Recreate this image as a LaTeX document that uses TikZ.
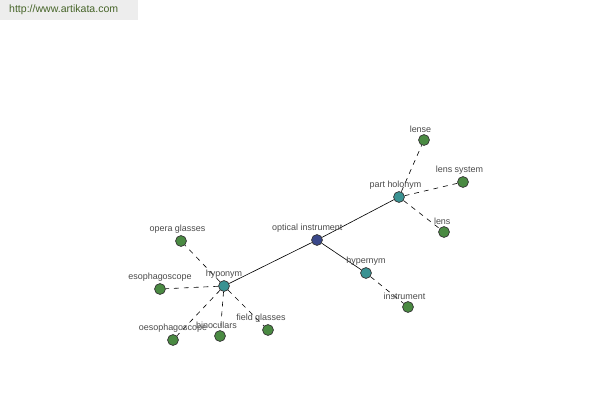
\documentclass[tikz,border=0pt]{standalone}
\usepackage{fontspec}
\setmainfont{Liberation Sans}
\usetikzlibrary{positioning}
\definecolor{leafgreen}{RGB}{74,138,66}
\definecolor{relteal}{RGB}{58,146,146}
\definecolor{rootblue}{RGB}{58,72,138}
\definecolor{labgray}{RGB}{75,75,75}
\definecolor{urlgreen}{RGB}{70,100,40}

\begin{document}
\begin{tikzpicture}[
    x=0.02cm, y=-0.02cm,
    % ── node styles ──
    word/.style={circle, draw=black!80, fill=leafgreen, inner sep=0pt, minimum size=6.2pt},
    relation/.style={circle, draw=black!80, fill=relteal, inner sep=0pt, minimum size=6.2pt},
    root/.style={circle, draw=black!80, fill=rootblue, inner sep=0pt, minimum size=6.2pt},
    lbl/.style={font=\fontsize{5.1}{6}\selectfont, text=labgray, inner sep=0.5pt},
    solidarr/.style={black, line width=0.35pt},
    dasharr/.style={black, line width=0.35pt, dash pattern=on 2.8pt off 2.8pt}
]
\useasboundingbox (0,0) rectangle (600,400);

% ═══ URL banner ═══
\fill[black!7] (0,0) rectangle (138,20);
\node[font=\fontsize{6}{7}\selectfont, text=urlgreen, anchor=west] (url) at (3,10) {http://www.artikata.com};

% ═══ Centre + relations ═══
\node[root]     (optic)   at (317,240) {};
\node[relation] (holonym) at (399,197) {};
\node[relation] (hyper)   at (366,273) {};
\node[relation] (hypo)    at (224,286) {};

% ═══ Leaf words ═══
\node[word] (lense)   at (424,140) {};
\node[word] (lsystem) at (463,182) {};
\node[word] (lens)    at (444,232) {};
\node[word] (instr)   at (408,307) {};
\node[word] (opera)   at (181,241) {};
\node[word] (esoph)   at (160,289) {};
\node[word] (oesoph)  at (173,340) {};
\node[word] (binoc)   at (220,336) {};
\node[word] (field)   at (268,330) {};

% ═══ Connectors ═══
\draw[solidarr] (optic) -- (holonym);
\draw[solidarr] (optic) -- (hyper);
\draw[solidarr] (optic) -- (hypo);
\draw[dasharr] (holonym) -- (lense);
\draw[dasharr] (holonym) -- (lsystem);
\draw[dasharr] (holonym) -- (lens);
\draw[dasharr] (hyper) -- (instr);
\draw[dasharr] (hypo) -- (opera);
\draw[dasharr] (hypo) -- (esoph);
\draw[dasharr] (hypo) -- (oesoph);
\draw[dasharr] (hypo) -- (binoc);
\draw[dasharr] (hypo) -- (field);

% ═══ Labels ═══
\node[lbl, above=0.2pt of optic, xshift=-5.5pt] (optic-l)   {optical instrument};
\node[lbl, above=0.2pt of holonym, xshift=-2pt] (holonym-l) {part holonym};
\node[lbl, above=0.2pt of hyper]                (hyper-l)   {hypernym};
\node[lbl, above=0.2pt of hypo]                 (hypo-l)    {hyponym};
\node[lbl, above=0.2pt of lense, xshift=-2pt]   (lense-l)   {lense};
\node[lbl, above=0.2pt of lsystem, xshift=-2pt] (lsystem-l) {lens system};
\node[lbl, above=0.2pt of lens, xshift=-1pt]    (lens-l)    {lens};
\node[lbl, above=0.2pt of instr, xshift=-2pt]   (instr-l)   {instrument};
\node[lbl, above=0.2pt of opera, xshift=-2pt]   (opera-l)   {opera glasses};
\node[lbl, above=0.2pt of esoph]                (esoph-l)   {esophagoscope};
\node[lbl, above=0.2pt of oesoph]               (oesoph-l)  {oesophagoscope};
\node[lbl, above=0.2pt of binoc, xshift=-2pt]   (binoc-l)   {binoculars};
\node[lbl, above=0.2pt of field, xshift=-4pt]   (field-l)   {field glasses};

\end{tikzpicture}
\end{document}
